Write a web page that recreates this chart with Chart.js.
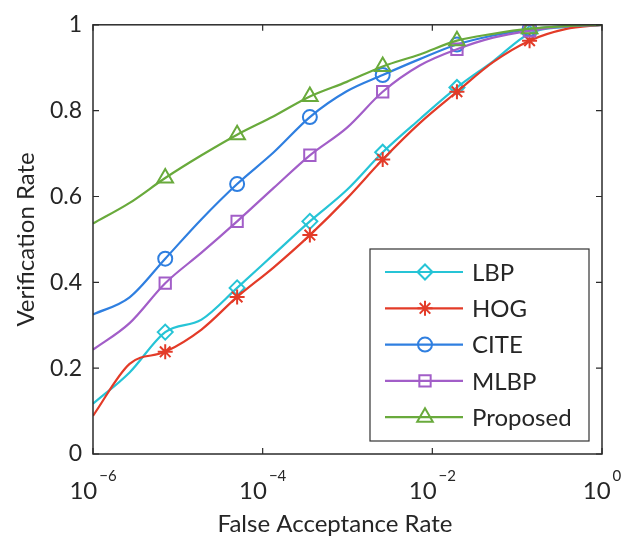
<!DOCTYPE html>
<html>
<head>
<meta charset="utf-8">
<script src="https://cdn.jsdelivr.net/npm/chart.js@4/dist/chart.umd.min.js"></script>
<style>
  html, body { margin: 0; background: #fff; }
  #wrap { width: 622px; height: 539px; position: relative; }
</style>
</head>
<body>
<div id="wrap"><canvas id="roc"></canvas></div>
<script>
// --- data ---
const FAR = [1e-6, 2.7e-6, 7.1e-6, 1.9e-5, 5e-5, 1.35e-4, 3.6e-4, 9.8e-4, 2.6e-3, 7.1e-3, 1.95e-2, 5.2e-2, 0.14, 0.37, 1];
const MARKER_IDX = [2, 4, 6, 8, 10, 12];

const LBP      = [0.117, 0.190, 0.284, 0.313, 0.387, 0.465, 0.542, 0.615, 0.703, 0.780, 0.854, 0.915, 0.980, 0.995, 1];
const HOG      = [0.089, 0.210, 0.238, 0.290, 0.366, 0.435, 0.510, 0.595, 0.686, 0.771, 0.844, 0.913, 0.963, 0.990, 1];
const CITE     = [0.325, 0.365, 0.455, 0.547, 0.629, 0.703, 0.785, 0.845, 0.883, 0.920, 0.954, 0.975, 0.990, 0.997, 1];
const MLBP     = [0.243, 0.305, 0.398, 0.469, 0.542, 0.620, 0.696, 0.760, 0.844, 0.905, 0.943, 0.970, 0.986, 0.996, 1];
const PROPOSED = [0.537, 0.585, 0.643, 0.696, 0.744, 0.787, 0.833, 0.867, 0.903, 0.931, 0.963, 0.979, 0.991, 0.997, 1];

const SERIES_NAMES = ['LBP', 'HOG', 'CITE', 'MLBP', 'Proposed'];
const Y_TICKS = [0, 0.2, 0.4, 0.6, 0.8, 1];
const Y_TICK_LABELS = ['0', '0.2', '0.4', '0.6', '0.8', '1'];
const X_TICKS = [1e-6, 1e-4, 1e-2, 1];
const X_TICK_EXP = ['\u22126', '\u22124', '\u22122', '0'];
const X_TITLE = 'False Acceptance Rate';
const Y_TITLE = 'Verification Rate';

// --- styling ---
const FONT = 'Lato, "Open Sans", sans-serif';
const INK = '#262626';
const STYLE = {
  LBP:      { color: '#26c4d6', point: 'rectRot',  r: 7.5 },
  HOG:      { color: '#e33b28', point: 'star',     r: 7.5 },
  CITE:     { color: '#2f7fe0', point: 'circle',   r: 7 },
  MLBP:     { color: '#a25ec8', point: 'rect',     r: 8 },
  Proposed: { color: '#69aa3c', point: 'triangle', r: 9 }
};
const VALUES = { LBP, HOG, CITE, MLBP, Proposed: PROPOSED };

const datasets = SERIES_NAMES.map((name, i) => {
  const s = STYLE[name];
  return {
    label: name,
    data: FAR.map((f, k) => ({ x: f, y: VALUES[name][k] })),
    borderColor: s.color,
    borderWidth: 2.2,
    cubicInterpolationMode: 'monotone',
    pointStyle: s.point,
    pointRadius: ctx => MARKER_IDX.includes(ctx.dataIndex) ? s.r : 0,
    pointBorderWidth: 2,
    pointBorderColor: s.color,
    pointBackgroundColor: 'rgba(0,0,0,0)',
    fill: false,
    order: SERIES_NAMES.length - i
  };
});

// frame, inward ticks, power-of-ten labels and the boxed legend
const decorations = {
  id: 'decorations',
  afterDatasetsDraw(chart) {
    const { ctx, chartArea: a, scales: { x, y } } = chart;
    ctx.save();
    ctx.strokeStyle = '#2b2b2b';
    ctx.lineWidth = 1.5;
    ctx.strokeRect(a.left, a.top, a.width, a.height);

    ctx.lineWidth = 1.2;
    ctx.beginPath();
    X_TICKS.forEach(v => {
      const px = x.getPixelForValue(v);
      ctx.moveTo(px, a.bottom); ctx.lineTo(px, a.bottom - 6);
      ctx.moveTo(px, a.top);    ctx.lineTo(px, a.top + 6);
    });
    Y_TICKS.forEach(v => {
      const py = y.getPixelForValue(v);
      ctx.moveTo(a.left, py);  ctx.lineTo(a.left + 6, py);
      ctx.moveTo(a.right, py); ctx.lineTo(a.right - 6, py);
    });
    ctx.stroke();

    // x tick labels: 10 with superscript exponent
    ctx.fillStyle = INK;
    ctx.textBaseline = 'alphabetic';
    ctx.textAlign = 'left';
    X_TICKS.forEach((v, i) => {
      const px = x.getPixelForValue(v);
      ctx.font = '24px ' + FONT;
      const wb = ctx.measureText('10').width;
      ctx.font = '15px ' + FONT;
      const we = ctx.measureText(X_TICK_EXP[i]).width;
      const x0 = px - (wb + 2 + we) / 2;
      ctx.font = '24px ' + FONT;
      ctx.fillText('10', x0, 499);
      ctx.font = '15px ' + FONT;
      ctx.fillText(X_TICK_EXP[i], x0 + wb + 2, 481);
    });

    // x title
    ctx.font = '24px ' + FONT;
    ctx.textAlign = 'center';
    ctx.fillText(X_TITLE, 335, 532);

    // legend box
    const L = { x: 370, y: 249, w: 219, h: 192, row0: 272, dy: 36.3 };
    ctx.fillStyle = '#fff';
    ctx.fillRect(L.x, L.y, L.w, L.h);
    ctx.strokeStyle = '#333';
    ctx.lineWidth = 1.2;
    ctx.strokeRect(L.x, L.y, L.w, L.h);
    SERIES_NAMES.forEach((name, i) => {
      const s = STYLE[name];
      const yy = L.row0 + i * L.dy;
      ctx.strokeStyle = s.color;
      ctx.lineWidth = 2.2;
      ctx.beginPath();
      ctx.moveTo(385, yy); ctx.lineTo(463, yy);
      ctx.stroke();
      ctx.fillStyle = 'rgba(0,0,0,0)';
      ctx.lineWidth = 2;
      Chart.helpers.drawPoint(ctx, { pointStyle: s.point, radius: s.r, rotation: 0, borderWidth: 2 }, 425, yy);
      ctx.fillStyle = INK;
      ctx.font = '24px ' + FONT;
      ctx.textAlign = 'left';
      ctx.textBaseline = 'middle';
      ctx.fillText(name, 472, yy + 1);
    });
    ctx.restore();
  }
};

new Chart(document.getElementById('roc'), {
  type: 'line',
  data: { datasets },
  plugins: [decorations],
  options: {
    responsive: true, maintainAspectRatio: false, animation: false,
    layout: { padding: { top: 17, right: 20, left: 0, bottom: 0 } },
    plugins: { legend: { display: false }, tooltip: { enabled: false } },
    scales: {
      x: {
        type: 'logarithmic', min: 1e-6, max: 1,
        grid: { display: false, drawTicks: false }, border: { display: false },
        ticks: { display: false },
        afterFit: s => { s.height = 85; }
      },
      y: {
        type: 'linear', min: 0, max: 1,
        grid: { display: false, drawTicks: false }, border: { display: false },
        afterBuildTicks: s => { s.ticks = Y_TICKS.map(v => ({ value: v })); },
        ticks: {
          color: INK, padding: 11, font: { family: FONT, size: 23 },
          callback: (v, i) => Y_TICK_LABELS[i]
        },
        title: { display: true, text: Y_TITLE, color: INK, font: { family: FONT, size: 24 }, padding: { top: 12, bottom: 0 } },
        afterFit: s => { s.width = 93; }
      }
    }
  }
});
</script>
</body>
</html>
